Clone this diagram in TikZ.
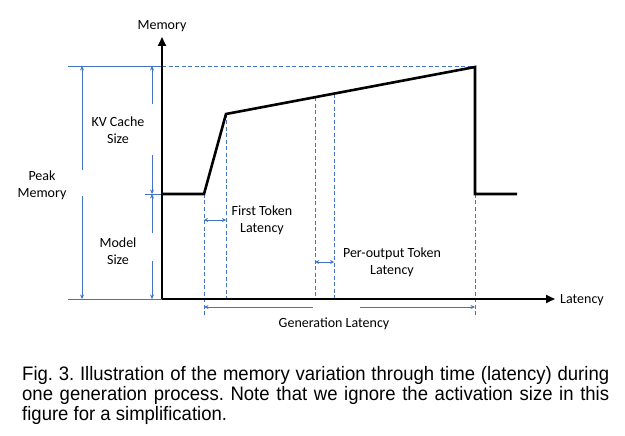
\documentclass[tikz,border=0pt]{standalone}
\usepackage{fontspec}
\setmainfont{Carlito}
\newfontfamily\capfont[FakeStretch=0.95]{Liberation Sans}
\usetikzlibrary{arrows.meta,calc}
\definecolor{dimblue}{RGB}{68,114,196}
\frenchspacing

\begin{document}
\begin{tikzpicture}[x=1pt, y=-1pt, font=\fontsize{14}{17}\selectfont,
        curve/.style={line width=2.6pt, line join=miter},
        axis/.style={line width=2.2pt, -{Triangle[length=9pt,width=8pt]}},
        guide/.style={dimblue, line width=0.8pt, dash pattern=on 4pt off 2.5pt},
        rule/.style={dimblue, line width=0.8pt},
        dimto/.style={dimblue, line width=0.9pt, -{Stealth[length=4.5pt,width=4pt]}},
        dimboth/.style={dimblue, line width=0.9pt, {Stealth[length=4pt,width=4pt]}-{Stealth[length=4pt,width=4pt]}},
        label/.style={align=center, inner sep=0pt}]
        \useasboundingbox (0,0) rectangle (625,436);

        % axes
        \coordinate (o) at (162,299);
        \coordinate (ytip) at (162,37);
        \coordinate (xtip) at (555,299);
        \node[label] (mem) at (162,26) {Memory};
        \node[label, anchor=west] (lat) at (560,300) {Latency};

        % memory curve
        \coordinate (c0) at (162,194);
        \coordinate (c1) at (204,194);
        \coordinate (c2) at (226,114);
        \coordinate (c3) at (475,67);
        \coordinate (c4) at (475,194);
        \coordinate (c5) at (517,194);
        \coordinate (p1) at ($(c2)!0.358!(c3)$);
        \coordinate (p2) at ($(c2)!0.434!(c3)$);

        % guide lines
        \coordinate (top) at (68,66);
        \coordinate (topy) at (162,66);
        \coordinate (toph) at (475,66);
        \coordinate (bot) at (68,299);
        \coordinate (mid) at (145,194);
        \draw[rule] (top) -- (topy) (bot) -- (o) (mid) -- (c0);
        \draw[guide] (topy) -- (toph);
        \draw[guide] (c1) -- (204,315);
        \draw[guide] (c2) -- (226,299);
        \draw[guide] (p1) -- (p1 |- o);
        \draw[guide] (p2) -- (p2 |- o);
        \draw[guide] (c4) -- (475,316);

        \draw[axis] (o) -- (ytip);
        \draw[axis] (o) -- (xtip);
        \draw[curve] (c0) -- (c1) -- (c2) -- (c3) -- (c4) -- (c5);

        % peak memory
        \node[label] (peak) at (42,185) {Peak\\Memory};
        \coordinate (pk1) at (82,170);
        \coordinate (pk2) at (82,196);
        \draw[dimto] (pk1) -- (82,66);
        \draw[dimto] (pk2) -- (82,299);

        % kv cache size
        \node[label] (kv) at (118,130) {KV Cache\\Size};
        \coordinate (kv1) at (152,104);
        \coordinate (kv2) at (152,155);
        \draw[dimto] (kv1) -- (152,66);
        \draw[dimto] (kv2) -- (152,194);

        % model size
        \node[label] (model) at (118,251) {Model\\Size};
        \coordinate (ms1) at (152,233);
        \coordinate (ms2) at (152,261);
        \draw[dimto] (ms1) -- (152,194);
        \draw[dimto] (ms2) -- (152,299);

        % first token latency
        \node[label] (ftl) at (262,220) {First Token\\Latency};
        \draw[dimboth] (204,220) -- (226,220);

        % per-output token latency
        \node[label] (ptl) at (392,262) {Per-output Token\\Latency};
        \draw[dimboth] ($(p1 |- o)+(0,-37)$) -- ($(p2 |- o)+(0,-37)$);

        % generation latency
        \node[label] (gen) at (334,324) {Generation Latency};
        \coordinate (gl1) at (313,307);
        \coordinate (gl2) at (360,307);
        \draw[dimto] (gl1) -- (204,307);
        \draw[dimto] (gl2) -- (475,307);

        % caption
        \node[anchor=north west, inner sep=0pt, text width=587pt, align=justify,
            font=\capfont\fontsize{19.5}{20}\selectfont] (cap) at (22,366.5)
            {Fig. 3. Illustration of the memory variation through time (latency) during\linebreak
            one generation process. Note that we ignore the activation size in this\linebreak
            figure for a simplification.};
\end{tikzpicture}
\end{document}
